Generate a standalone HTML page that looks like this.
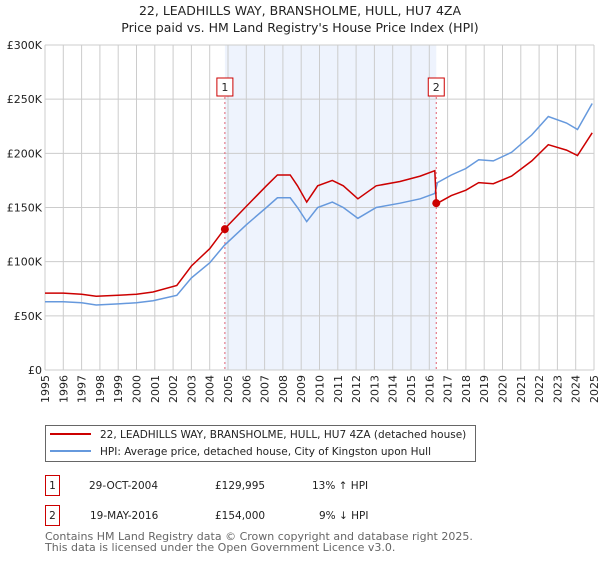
<!DOCTYPE html>
<html><head><meta charset="utf-8"><style>
body{margin:0;background:#fff;font-family:"Liberation Sans","DejaVu Sans",sans-serif;}
svg text{font-family:"DejaVu Sans","Liberation Sans",sans-serif;}
</style></head><body>
<svg id="c" width="600" height="560" xmlns="http://www.w3.org/2000/svg">
<text x="300" y="15" text-anchor="middle" font-size="12.5" fill="#222">22, LEADHILLS WAY, BRANSHOLME, HULL, HU7 4ZA</text>
<text x="300" y="32" text-anchor="middle" font-size="12.5" fill="#222">Price paid vs. HM Land Registry's House Price Index (HPI)</text>
<g id="plot"></g>
<g id="legend">
<rect x="45.5" y="425.5" width="430" height="36" fill="#fff" stroke="#666" stroke-width="1"/>
<line x1="50" y1="434" x2="91" y2="434" stroke="#cc0000" stroke-width="2"/>
<text x="100" y="438" font-size="10.5" fill="#222">22, LEADHILLS WAY, BRANSHOLME, HULL, HU7 4ZA (detached house)</text>
<line x1="50" y1="451" x2="91" y2="451" stroke="#6699dd" stroke-width="2"/>
<text x="100" y="455" font-size="10.5" fill="#222">HPI: Average price, detached house, City of Kingston upon Hull</text>
</g>
<g font-size="10.5" fill="#222">
<rect x="45.5" y="475.5" width="14" height="20" fill="#fff" stroke="#cc0000"/>
<text x="52.5" y="489" text-anchor="middle">1</text>
<text x="89" y="489">29-OCT-2004</text>
<text x="215" y="489">£129,995</text>
<text x="312" y="489">13% ↑ HPI</text>
<rect x="45.5" y="505.5" width="14" height="20" fill="#fff" stroke="#cc0000"/>
<text x="52.5" y="519" text-anchor="middle">2</text>
<text x="90" y="519">19-MAY-2016</text>
<text x="215" y="519">£154,000</text>
<text x="319" y="519">9% ↓ HPI</text>
</g>
<text x="45" y="540" font-size="11" fill="#666">Contains HM Land Registry data © Crown copyright and database right 2025.</text>
<text x="45" y="551" font-size="11" fill="#666">This data is licensed under the Open Government Licence v3.0.</text>
</svg>
<script>
const hpiDates=[1995,1996,1997,1997.8,1999,2000,2000.9,2002.2,2003,2004,2004.8,2006,2007.1,2007.7,2008.4,2008.8,2009.3,2009.9,2010.7,2011.3,2012.1,2013.1,2014.4,2015.5,2016.3,2016.45,2017.2,2018,2018.7,2019.5,2020.5,2021.6,2022.5,2023.5,2024.1,2024.9];
const hpiValues=[63,63,62,60,61,62,64,69,85,99,115,134,150,159,159,150,137,150,155,150,140,150,154,158,163,173,180,186,194,193,201,217,234,228,222,246];
const priceDates=[1995,1996,1997,1997.8,1999,2000,2000.9,2002.2,2003,2004,2004.8,2006,2007.1,2007.7,2008.4,2008.8,2009.3,2009.9,2010.7,2011.3,2012.1,2013.1,2014.4,2015.5,2016.3,2016.38,2016.45,2017.2,2018,2018.7,2019.5,2020.5,2021.6,2022.5,2023.5,2024.1,2024.9];
const priceValues=[71,71,70,68,69,70,72,78,96,112,130,151,170,180,180,170,155,170,175,170,158,170,174,179,184,154,154,161,166,173,172,179,193,208,203,198,219];
const saleDates=[2004.83,2016.38];
const saleValues=[130,154];
const saleLabels=["1","2"];
const yTicks=[0,50,100,150,200,250,300];
const yTickLabels=["£0","£50K","£100K","£150K","£200K","£250K","£300K"];
const xTicks=[1995,1996,1997,1998,1999,2000,2001,2002,2003,2004,2005,2006,2007,2008,2009,2010,2011,2012,2013,2014,2015,2016,2017,2018,2019,2020,2021,2022,2023,2024,2025];

const X0=45,X1=594,Y0=370,Y1=45;
const xs=d=>X0+(d-1995)/30*(X1-X0);
const ys=v=>Y0-v/300*(Y0-Y1);
const NS="http://www.w3.org/2000/svg";
const g=document.getElementById('plot');
function mk(t,a){const e=document.createElementNS(NS,t);for(const k in a)e.setAttribute(k,a[k]);g.appendChild(e);return e;}
let sh=mk('rect',{x:xs(saleDates[0]),y:Y1,width:xs(saleDates[1])-xs(saleDates[0]),height:Y0-Y1,fill:'#eef3fd'});


xTicks.forEach(t=>{const l=mk('line',{x1:xs(t),x2:xs(t),y1:Y1,y2:Y0,stroke:'#ccc','stroke-width':1});


const px=xs(t)+4,py=Y0+5;
const tx=mk('text',{x:px,y:py,'text-anchor':'end','font-size':11,fill:'#222',transform:'rotate(-90 '+px+' '+py+')'});tx.textContent=t;

});
yTicks.forEach((t,i)=>{const l=mk('line',{x1:X0,x2:X1,y1:ys(t),y2:ys(t),stroke:'#ccc','stroke-width':1});


const tx=mk('text',{x:X0-3,y:ys(t)+4,'text-anchor':'end','font-size':11,fill:'#222'});tx.textContent=yTickLabels[i];

});
saleDates.forEach((d,i)=>{const l=mk('line',{x1:xs(d),x2:xs(d),y1:Y1+52,y2:Y0,stroke:'#e06070','stroke-width':1,'stroke-dasharray':'2,3'});


const b=mk('rect',{x:xs(d)-8,y:78,width:16,height:18,fill:'#fff',stroke:'#cc0000'});


const tx=mk('text',{x:xs(d),y:91,'text-anchor':'middle','font-size':11,fill:'#222'});tx.textContent=saleLabels[i];

});
function path(ds,vs){return ds.map((d,i)=>(i?'L':'M')+xs(d).toFixed(1)+','+ys(vs[i]).toFixed(1)).join('');}
const hp=mk('path',{d:path(hpiDates,hpiValues),fill:'none',stroke:'#6699dd','stroke-width':1.5});


const pp=mk('path',{d:path(priceDates,priceValues),fill:'none',stroke:'#cc0000','stroke-width':1.5});


saleDates.forEach((d,i)=>{const c=mk('circle',{cx:xs(d),cy:ys(saleValues[i]),r:4,fill:'#cc0000'});

});
</script>
</body></html>
